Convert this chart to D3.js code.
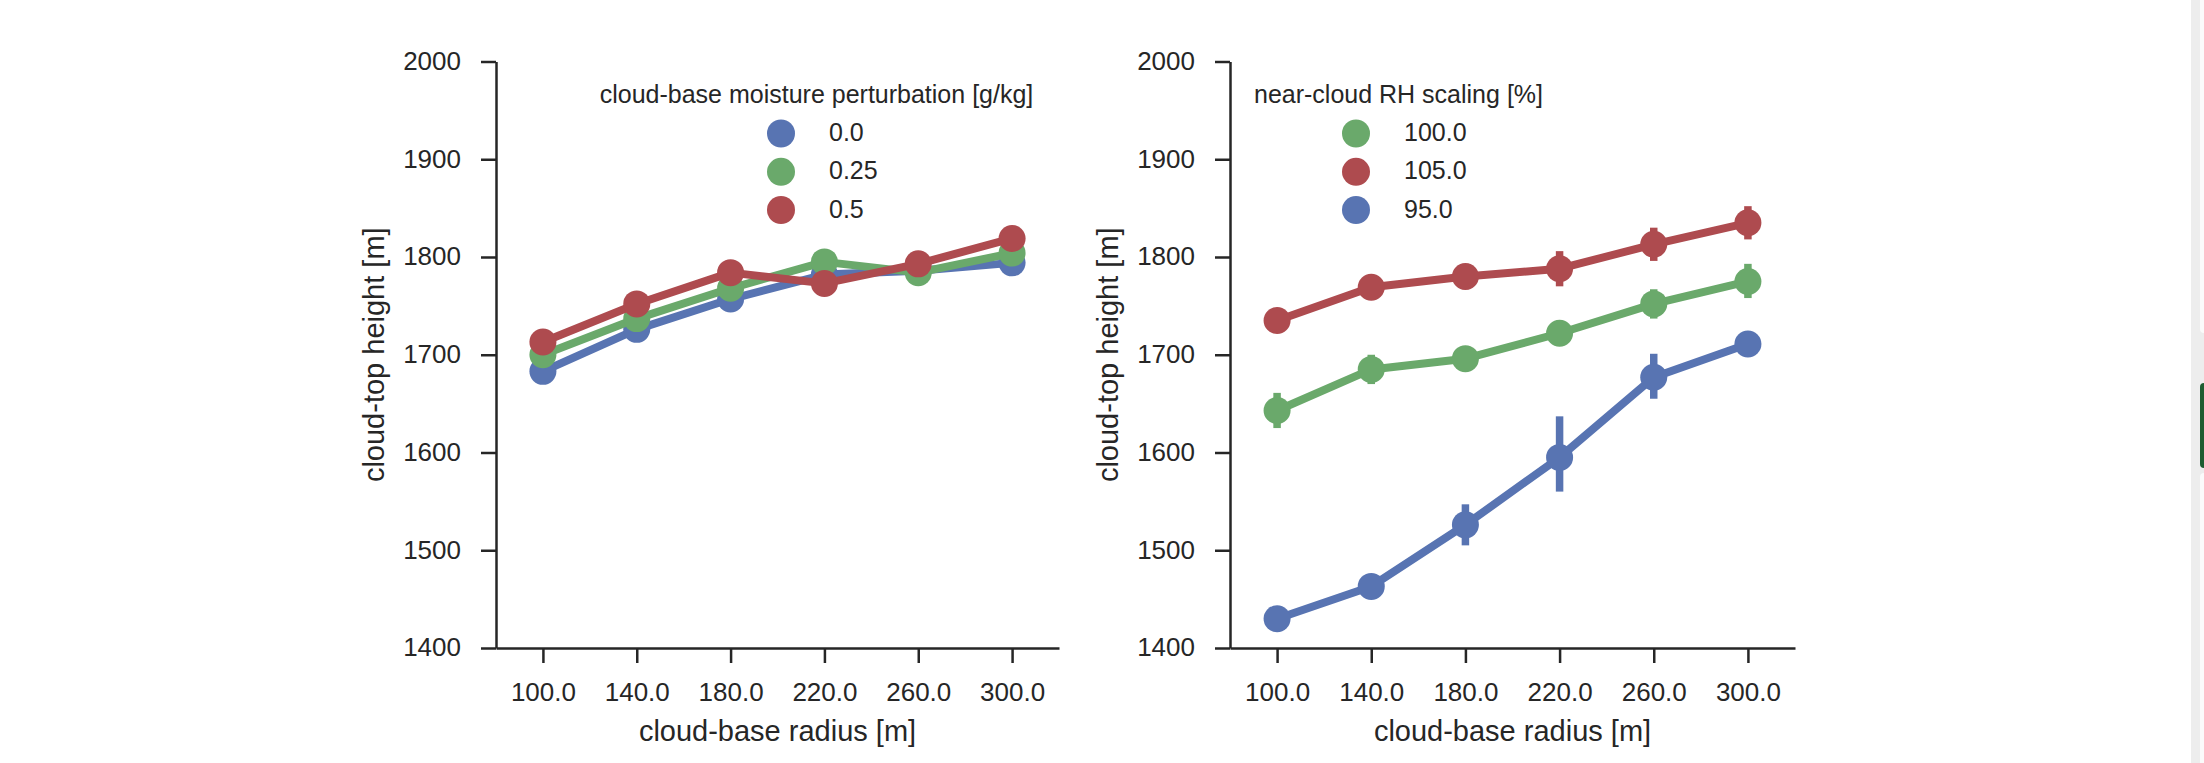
<!DOCTYPE html>
<html>
<head>
<meta charset="utf-8">
<script src="https://cdn.jsdelivr.net/npm/d3@7"></script>
<style>
  html, body { margin: 0; padding: 0; background: #ffffff; }
  svg { display: block; font-family: "Liberation Sans", Arial, sans-serif; }
</style>
</head>
<body>
<svg id="chart" width="2204" height="763"></svg>
<script>
// ---------------- data ----------------
const categories = ["100.0", "140.0", "180.0", "220.0", "260.0", "300.0"];
const yTicks = [1400, 1500, 1600, 1700, 1800, 1900, 2000];

// left panel: cloud-base moisture perturbation [g/kg]
const leftTitle = "cloud-base moisture perturbation [g/kg]";
const leftHues = ["0.0", "0.25", "0.5"];
const leftValues0 = [1683, 1726, 1757, 1782, 1786, 1794];
const leftValues025 = [1700, 1737, 1768, 1795, 1784, 1804];
const leftValues05 = [1713, 1752, 1784, 1773, 1793, 1819];

// right panel: near-cloud RH scaling [%]
const rightTitle = "near-cloud RH scaling [%]";
const rightHues = ["100.0", "105.0", "95.0"];
const rightValues100 = [1643, 1685, 1696, 1722, 1752, 1775];
const rightLow100 = [1625, 1670, 1684, 1709, 1737, 1758];
const rightHigh100 = [1661, 1700, 1708, 1735, 1767, 1793];
const rightValues105 = [1735, 1769, 1780, 1788, 1813, 1835];
const rightLow105 = [1727, 1760, 1767, 1770, 1796, 1818];
const rightHigh105 = [1743, 1778, 1793, 1806, 1830, 1852];
const rightValues95 = [1430, 1463, 1526, 1595, 1677, 1711];
const rightLow95 = [1425, 1458, 1505, 1560, 1655, 1706];
const rightHigh95 = [1435, 1468, 1547, 1637, 1701, 1716];

const xLabel = "cloud-base radius [m]";
const yLabel = "cloud-top height [m]";

const BLUE = "#5874b2", GREEN = "#6aa96b", RED = "#ae4b4f";
const TEXT = "#262626";

// ---------------- drawing ----------------
const svg = d3.select("#chart");

// right edge browser artefacts
svg.append("rect").attr("x", 2191).attr("y", 0).attr("width", 13).attr("height", 763).attr("fill", "#ededed");
svg.append("rect").attr("x", 2200).attr("y", -6).attr("width", 10).attr("height", 339).attr("rx", 4).attr("fill", "#fbfbfb");
svg.append("rect").attr("x", 2200).attr("y", 383).attr("width", 10).attr("height", 85).attr("rx", 4).attr("fill", "#1d5c30");
svg.append("rect").attr("x", 2200).attr("y", 473).attr("width", 10).attr("height", 300).attr("rx", 4).attr("fill", "#fbfbfb");

const y = d3.scaleLinear().domain([1400, 2000]).range([648, 61.5]);

function panel(opts) {
  const g = svg.append("g");
  const x = d3.scalePoint().domain(categories).range([opts.x0, opts.x1]).padding(0.5);

  // axes
  const yAxis = d3.axisLeft(y).tickValues(yTicks).tickFormat(d3.format("d"))
    .tickSize(15).tickSizeOuter(0).tickPadding(20);
  const gy = g.append("g").attr("transform", `translate(${opts.x0},0)`).call(yAxis);
  const xAxis = d3.axisBottom(x).tickSize(15).tickSizeOuter(0).tickPadding(20);
  const gx = g.append("g").attr("transform", `translate(0,${y(1400)})`).call(xAxis);
  [gx, gy].forEach(a => {
    a.selectAll("path.domain").attr("stroke", TEXT).attr("stroke-width", 2.5);
    a.selectAll(".tick line").attr("stroke", TEXT).attr("stroke-width", 2.5);
    a.selectAll(".tick text").attr("fill", TEXT).attr("font-size", 26)
      .attr("font-family", "Liberation Sans, Arial, sans-serif");
  });
  gy.selectAll(".tick text").attr("dy", "0.3em");

  // axis labels
  g.append("text").attr("x", (opts.x0 + opts.x1) / 2).attr("y", 741)
    .attr("text-anchor", "middle").attr("font-size", 29).attr("fill", TEXT).text(xLabel);
  g.append("text")
    .attr("transform", `translate(${opts.x0 - 112},${(y(1400) + y(2000)) / 2}) rotate(-90)`)
    .attr("text-anchor", "middle").attr("font-size", 29).attr("fill", TEXT).text(yLabel);

  // series
  const line = d3.line().x((d, i) => x(categories[i])).y(d => y(d));
  opts.series.forEach(s => {
    const sg = g.append("g");
    if (s.low) {
      sg.selectAll("line.err").data(categories).join("line")
        .attr("x1", c => x(c)).attr("x2", c => x(c))
        .attr("y1", (c, i) => y(s.low[i])).attr("y2", (c, i) => y(s.high[i]))
        .attr("stroke", s.color).attr("stroke-width", 7.5);
    }
    sg.append("path").datum(s.values).attr("d", line)
      .attr("fill", "none").attr("stroke", s.color).attr("stroke-width", 8)
      .attr("stroke-linejoin", "round");
    sg.selectAll("circle").data(s.values).join("circle")
      .attr("cx", (d, i) => x(categories[i])).attr("cy", d => y(d))
      .attr("r", 13.5).attr("fill", s.color);
  });

  // legend
  const lg = g.append("g");
  lg.append("text").attr("x", opts.titleX).attr("y", 103).attr("text-anchor", "middle")
    .attr("font-size", 25).attr("fill", TEXT).text(opts.title);
  const legY = [133.5, 171.8, 210];
  opts.legend.forEach((s, i) => {
    lg.append("circle").attr("cx", opts.legX).attr("cy", legY[i]).attr("r", 14).attr("fill", s.color);
    lg.append("text").attr("x", opts.legX + 48).attr("y", legY[i]).attr("dy", "0.3em")
      .attr("font-size", 25).attr("fill", TEXT).text(s.label);
  });
}

panel({
  x0: 496, x1: 1059,
  title: leftTitle, titleX: 816.5, legX: 781,
  series: [
    { color: BLUE, values: leftValues0 },
    { color: GREEN, values: leftValues025 },
    { color: RED, values: leftValues05 }
  ],
  legend: [
    { color: BLUE, label: leftHues[0] },
    { color: GREEN, label: leftHues[1] },
    { color: RED, label: leftHues[2] }
  ]
});

panel({
  x0: 1230, x1: 1795,
  title: rightTitle, titleX: 1398.5, legX: 1356,
  series: [
    { color: GREEN, values: rightValues100, low: rightLow100, high: rightHigh100 },
    { color: RED, values: rightValues105, low: rightLow105, high: rightHigh105 },
    { color: BLUE, values: rightValues95, low: rightLow95, high: rightHigh95 }
  ],
  legend: [
    { color: GREEN, label: rightHues[0] },
    { color: RED, label: rightHues[1] },
    { color: BLUE, label: rightHues[2] }
  ]
});
</script>
</body>
</html>
